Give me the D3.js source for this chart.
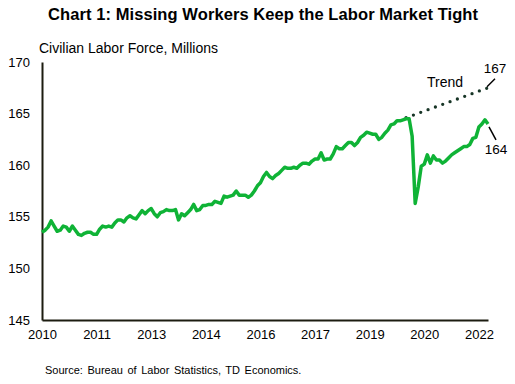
<!DOCTYPE html>
<html lang="en">
<head>
<meta charset="UTF-8">
<title>Chart 1</title>
<script src="https://cdn.jsdelivr.net/npm/d3@7/dist/d3.min.js"></script>
<style>
  body { margin: 0; background: #fff; }
  svg { display: block; font-family: "Liberation Sans", Arial, sans-serif; }
  .axis path { stroke: #1c1c10; stroke-width: 2px; fill: none; }
  .axis text { font-size: 13px; fill: #000; }
</style>
</head>
<body>
<script>
// monthly civilian labor force, millions, Jan 2010 .. Apr 2022
var startYear = 2010;
var laborForce = [
  153.5, 153.7, 154.0, 154.6, 154.1, 153.6, 153.7, 154.1, 154.0, 153.6, 154.1, 153.7,
  153.3, 153.2, 153.4, 153.5, 153.5, 153.3, 153.3, 153.8, 154.1, 154.0, 154.1, 154.0,
  154.4, 154.7, 154.7, 154.5, 154.9, 155.1, 154.9, 154.8, 155.2, 155.6, 155.3, 155.6,
  155.8, 155.3, 155.0, 155.4, 155.5, 155.7, 155.6, 155.6, 155.7, 154.7, 155.3, 155.1,
  155.4, 155.7, 156.2, 155.6, 155.7, 156.1, 156.1, 156.2, 156.2, 156.5, 156.4, 156.3,
  157.0, 156.9, 157.0, 157.1, 157.5, 157.1, 157.1, 157.1, 156.9, 157.1, 157.5, 158.0,
  158.3, 158.9, 159.3, 158.9, 158.7, 159.0, 159.2, 159.5, 159.8, 159.7, 159.7, 159.8,
  159.7, 160.0, 160.2, 160.2, 160.1, 160.4, 160.6, 160.6, 161.2, 160.5, 160.6, 160.6,
  161.1, 161.8, 161.6, 161.6, 161.9, 162.2, 162.2, 161.9, 162.2, 162.7, 162.9, 163.2,
  163.1, 163.0, 163.0, 162.5, 162.7, 163.1, 163.4, 163.9, 164.0, 164.3, 164.3, 164.4,
  164.5, 164.5, 162.8, 156.3, 157.9, 159.9, 160.1, 161.0, 160.2, 160.9, 160.5, 160.5,
  160.2, 160.4, 160.7, 161.0, 161.2, 161.4, 161.6, 161.8, 161.8, 162.0, 162.6, 162.7,
  163.7, 164.0, 164.4, 164.0
];
// pre-pandemic trend, month index (from Jan 2010) and value
var trendIndex = [120, 147];
var trendValues = [164.6, 167.5];

var yTicks = [145, 150, 155, 160, 165, 170];
var xTickIndex = [0, 18, 36, 54, 72, 90, 108, 126, 144];

var width = 515, height = 384;
var margin = {left: 42, right: 27, top: 62, bottom: 64};

var svg = d3.select("body").append("svg")
  .attr("width", width)
  .attr("height", height);

var x = d3.scaleLinear()
  .domain([0, laborForce.length - 1])
  .range([margin.left, width - margin.right]);

var y = d3.scaleLinear()
  .domain([145, 170])
  .range([height - margin.bottom, margin.top]);

// title
svg.append("text")
  .attr("x", 48)
  .attr("y", 20)
  .attr("textLength", 430)
  .attr("lengthAdjust", "spacing")
  .style("font-size", "16.5px")
  .style("font-weight", "bold")
  .text("Chart 1: Missing Workers Keep the Labor Market Tight");

svg.append("text")
  .attr("x", 39)
  .attr("y", 53)
  .style("font-size", "14px")
  .text("Civilian Labor Force, Millions");

// axes
svg.append("g")
  .attr("class", "axis")
  .attr("transform", "translate(0," + (height - margin.bottom) + ")")
  .call(d3.axisBottom(x)
    .tickValues(xTickIndex)
    .tickSize(0)
    .tickPadding(10)
    .tickFormat(function(i) { return startYear + Math.floor(i / 12); }));

svg.append("g")
  .attr("class", "axis")
  .attr("transform", "translate(" + margin.left + ",0)")
  .call(d3.axisLeft(y)
    .tickValues(yTicks)
    .tickSize(0)
    .tickPadding(12));

// trend
var trendLine = d3.line()
  .x(function(d, i) { return x(trendIndex[i]); })
  .y(function(d) { return y(d); });

svg.append("path")
  .attr("d", trendLine(trendValues))
  .attr("fill", "none")
  .attr("stroke", "#173526")
  .attr("stroke-width", 3.3)
  .attr("stroke-linecap", "round")
  .attr("stroke-dasharray", "0 7.8");

// labor force
var line = d3.line()
  .x(function(d, i) { return x(i); })
  .y(function(d) { return y(d); });

svg.append("path")
  .attr("d", line(laborForce))
  .attr("fill", "none")
  .attr("stroke", "#0fb336")
  .attr("stroke-width", 3.5)
  .attr("stroke-linejoin", "round");

// annotations
var last = laborForce.length - 1;
svg.append("line")
  .attr("x1", x(last) + 1).attr("y1", y(laborForce[last]) + 3)
  .attr("x2", x(last) + 8).attr("y2", y(laborForce[last]) + 16)
  .attr("stroke", "#000").attr("stroke-width", 1.5);
svg.append("text")
  .attr("x", x(last) + 8).attr("y", y(laborForce[last]) + 30)
  .attr("text-anchor", "middle")
  .style("font-size", "13.5px")
  .text("164");

svg.append("line")
  .attr("x1", x(trendIndex[1]) - 1).attr("y1", y(trendValues[1]) - 1)
  .attr("x2", x(trendIndex[1]) + 7).attr("y2", y(trendValues[1]) - 9)
  .attr("stroke", "#000").attr("stroke-width", 1.5);
svg.append("text")
  .attr("x", x(trendIndex[1]) + 7).attr("y", y(trendValues[1]) - 15)
  .attr("text-anchor", "middle")
  .style("font-size", "13.5px")
  .text("167");

svg.append("text")
  .attr("x", 445).attr("y", 87)
  .attr("text-anchor", "middle")
  .style("font-size", "14px")
  .text("Trend");

// source
svg.append("text")
  .attr("x", 45).attr("y", 374)
  .style("font-size", "11px")
  .style("word-spacing", "1.5px")
  .text("Source: Bureau of Labor Statistics, TD Economics.");
</script>
</body>
</html>
